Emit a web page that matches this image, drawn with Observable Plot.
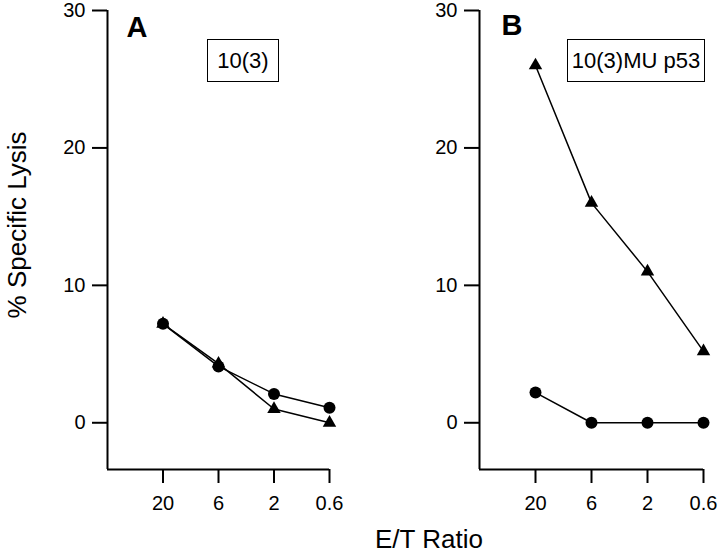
<!DOCTYPE html>
<html>
<head>
<meta charset="utf-8">
<script src="https://cdn.jsdelivr.net/npm/d3@7"></script>
<script src="https://cdn.jsdelivr.net/npm/@observablehq/plot@0.6"></script>
<style>
  body { margin: 0; background: #fff; }
  #wrap { position: relative; width: 720px; height: 555px; font-family: "Liberation Sans", Arial, Helvetica, sans-serif; color: #000; }
  .panel { position: absolute; top: 0; }
  .panel g[aria-label="x-axis tick label"] text, .panel g[aria-label="y-axis tick label"] text,
  .panel g[aria-label="x-axis tick label"], .panel g[aria-label="y-axis tick label"] { font-size: 20px !important; }
  .panel g[aria-label="x-axis tick"], .panel g[aria-label="y-axis tick"] { stroke-width: 2px; }
  .box { position: absolute; border: 1.5px solid #000; box-sizing: border-box; display: flex; align-items: center; justify-content: center; font-size: 22px; background: #fff; }
  #ylab { position: absolute; left: 17px; top: 225px; transform: translate(-50%, -50%) rotate(-90deg); font-size: 26px; white-space: nowrap; }
  #xlab { position: absolute; left: 375px; top: 524px; font-size: 26px; white-space: nowrap; }
</style>
</head>
<body>
<div id="wrap">
  <div id="ylab">% Specific Lysis</div>
  <div id="xlab">E/T Ratio</div>
</div>
<script>
// Data
const ratios = ["20", "6", "2", "0.6"];           // E/T ratio categories (x tick labels)
const yTicks = [0, 10, 20, 30];                     // y tick values
const panelLetters = ["A", "B"];
const cellLines = ["10(3)", "10(3)MU p53"];
const lysisA_circle   = [7.2, 4.1, 2.1, 1.1];
const lysisA_triangle = [7.2, 4.3, 1.0, 0.0];
const lysisB_circle   = [2.2, 0.0, 0.0, 0.0];
const lysisB_triangle = [26.0, 16.0, 11.0, 5.2];
const yDomain = [-3.4, 30];
const xDomain = [-1, ratios.length - 1];

const font = "'Liberation Sans', Arial, Helvetica, sans-serif";
const toRows = (vals) => vals.map((v, i) => ({i, v, ratio: ratios[i]}));

function panel(letter, circles, triangles, marginLeft, marginRight, letterDx, letterDy) {
  const tri = toRows(triangles), cir = toRows(circles);
  return Plot.plot({
    width: 360,
    height: 515,
    marginTop: 10,
    marginBottom: 46,
    marginLeft,
    marginRight,
    style: {fontFamily: font, fontSize: "20px", color: "#000", background: "transparent", overflow: "visible"},
    x: {domain: xDomain},
    y: {domain: yDomain},
    marks: [
      Plot.axisY({ticks: yTicks, tickSize: 15, tickPadding: 7, label: null, fontSize: 20}),
      Plot.axisX({ticks: d3.range(ratios.length), tickFormat: (i) => ratios[i], tickSize: 14, tickPadding: 12, label: null, fontSize: 20}),
      Plot.ruleX([xDomain[0]], {stroke: "#000", strokeWidth: 2}),
      Plot.ruleY([yDomain[0]], {stroke: "#000", strokeWidth: 2}),
      Plot.line(tri, {x: "i", y: "v", stroke: "#000", strokeWidth: 1.5}),
      Plot.line(cir, {x: "i", y: "v", stroke: "#000", strokeWidth: 1.5}),
      Plot.dot(tri, {x: "i", y: "v", symbol: "triangle", r: 5, fill: "#000", stroke: "none"}),
      Plot.dot(cir, {x: "i", y: "v", symbol: "circle", r: 6, fill: "#000", stroke: "none"}),
      Plot.text([letter], {frameAnchor: "top-left", text: (d) => d, dx: letterDx, dy: letterDy, fontSize: 29, fontWeight: "bold", lineAnchor: "top"})
    ]
  });
}

const wrap = document.getElementById("wrap");
const pA = panel(panelLetters[0], lysisA_circle, lysisA_triangle, 107, 31, 19, 6);
const pB = panel(panelLetters[1], lysisB_circle, lysisB_triangle, 119, 17, 22, 4);
pA.classList.add("panel"); pA.style.left = "0px";
pB.classList.add("panel"); pB.style.left = "360px";
wrap.appendChild(pA);
wrap.appendChild(pB);

const boxes = [
  {text: cellLines[0], left: 207, width: 72},
  {text: cellLines[1], left: 567, width: 138}
];
for (const b of boxes) {
  const el = document.createElement("div");
  el.className = "box";
  el.textContent = b.text;
  el.style.left = b.left + "px";
  el.style.top = "39px";
  el.style.width = b.width + "px";
  el.style.height = "43px";
  wrap.appendChild(el);
}
</script>
</body>
</html>
